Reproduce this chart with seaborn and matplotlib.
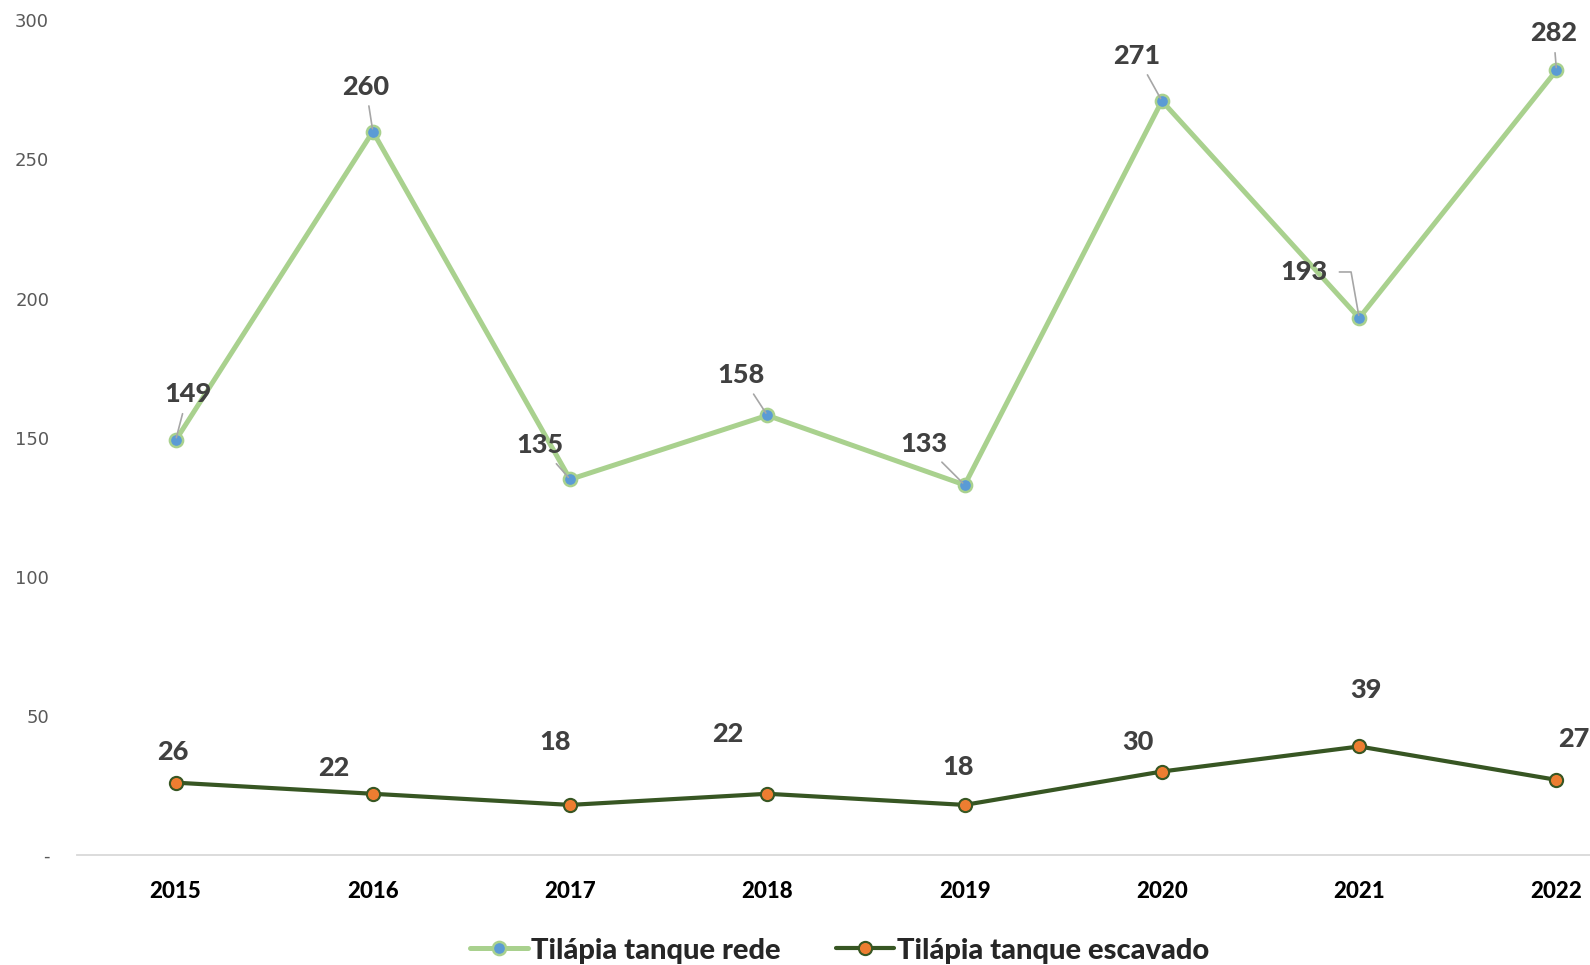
import matplotlib
matplotlib.use("Agg")
import matplotlib.pyplot as plt
import numpy as np
import pandas as pd
import seaborn as sns

years = ["2015", "2016", "2017", "2018", "2019", "2020", "2021", "2022"]
rede = [149, 260, 135, 158, 133, 271, 193, 282]
escavado = [26, 22, 18, 22, 18, 30, 39, 27]
y_ticks = [0, 50, 100, 150, 200, 250, 300]
y_tick_labels = ["-", "50", "100", "150", "200", "250", "300"]

# label offsets in pixels (dx, dy) relative to each point
rede_offsets = [(12, 46), (-7, 45), (-30, 34), (-26, 40), (-41, 41), (-25, 45), (-55, 46), (-3, 37)]
esc_offsets = [(-3, 31), (-39, 26), (-15, 63), (-40, 60), (-7, 38), (-24, 30), (7, 56), (17, 41)]

sns.set_style("white")
plt.rcParams["font.family"] = ["Lato", "DejaVu Sans"]

df = pd.DataFrame({"x": np.arange(len(years)), "rede": rede, "escavado": escavado})

fig = plt.figure(figsize=(15.9, 9.65), dpi=100)
ax = fig.add_axes([0.0484, 0.114, 0.9516, 0.865])

sns.lineplot(data=df, x="x", y="rede", ax=ax, color="#a9d18e", lw=3.6,
             marker="o", markersize=9.5, markerfacecolor="#5b9bd5",
             markeredgecolor="#a9d18e", markeredgewidth=1.8,
             label="Tilápia tanque rede")
sns.lineplot(data=df, x="x", y="escavado", ax=ax, color="#375623", lw=3.0,
             marker="o", markersize=9.5, markerfacecolor="#ed7d31",
             markeredgecolor="#375623", markeredgewidth=1.5,
             label="Tilápia tanque escavado")

for i, v in enumerate(rede):
    dx, dy = rede_offsets[i]
    cs = "angle,angleA=0,angleB=100,rad=0" if i == 6 else "arc3"
    ax.annotate(str(v), (i, v), xytext=(dx, dy), textcoords="offset pixels",
                ha="center", va="center", fontsize=19.5, fontweight="black",
                color="#404040", annotation_clip=False,
                arrowprops=dict(arrowstyle="-", color="#a6a6a6", lw=1.2,
                                shrinkA=6 if i == 6 else 3, shrinkB=2,
                                connectionstyle=cs))

for i, v in enumerate(escavado):
    dx, dy = esc_offsets[i]
    ax.annotate(str(v), (i, v), xytext=(dx, dy), textcoords="offset pixels",
                ha="center", va="center", fontsize=19.5, fontweight="black",
                color="#404040", annotation_clip=False)

ax.set_xlim(-0.5, 7.17)
ax.set_ylim(0, 300)
ax.set_xticks(np.arange(len(years)))
ax.set_xticklabels(years, fontsize=16, fontweight="black", color="black")
ax.set_yticks(y_ticks)
ax.set_yticklabels(y_tick_labels, fontsize=13, color="#595959", family="DejaVu Sans")
ax.tick_params(axis="y", length=0, pad=20)
ax.tick_params(axis="x", length=0, pad=19)
ax.set_xlabel("")
ax.set_ylabel("")
for s in ["top", "right", "left"]:
    ax.spines[s].set_visible(False)
ax.spines["bottom"].set_color("#d9d9d9")
ax.spines["bottom"].set_linewidth(1.3)

ax.get_legend().remove()
handles, labels = ax.get_legend_handles_labels()
fig.legend(handles, labels, loc="center", bbox_to_anchor=(0.528, 0.015), ncol=2,
           frameon=False, prop={"size": 21, "weight": "black"},
           handlelength=2.0, handletextpad=0.1, columnspacing=1.9)

fig.savefig("out.png", dpi=100)
